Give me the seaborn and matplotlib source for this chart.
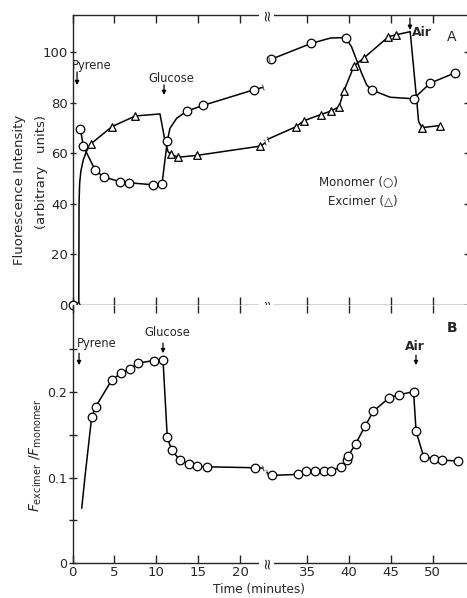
import numpy as np
import pandas as pd
import matplotlib
matplotlib.use("Agg")
import matplotlib.pyplot as plt
import seaborn as sns

# ---------------- data (time in minutes, real values) ----------------
# Panel A: monomer (circles)
mono_t = [0.1, 0.93, 1.29, 2.72, 3.72, 5.70, 6.78, 9.64, 10.68, 11.31, 13.63, 15.61, 21.69,
          30.7, 35.5, 39.6, 42.7, 47.7, 49.7, 52.7]
mono_v = [0, 69.7, 62.8, 53.2, 50.6, 48.7, 48.3, 47.5, 47.8, 64.8, 76.6, 78.9, 85.1,
          97.1, 103.4, 105.7, 85.0, 81.5, 87.7, 91.8]
# Panel A: excimer (triangles)
exc_t = [0.7, 2.17, 4.71, 7.49, 11.72, 12.63, 14.8, 22.43,
         33.7, 34.6, 36.6, 37.8, 38.8, 39.4, 40.6, 41.8, 44.7, 45.6, 48.7, 50.8]
exc_v = [0, 63.6, 70.5, 74.7, 59.6, 58.4, 59.1, 62.8,
         70.5, 72.8, 75.2, 76.6, 78.3, 84.7, 94.5, 97.7, 106.0, 106.8, 70.1, 70.9]

# drawn curves of panel A (two segments each, split by the axis break)
mono_c1_t = [0.93, 1.29, 2.72, 3.72, 5.70, 6.78, 9.64, 10.68, 11.31, 11.63, 12.43, 13.63, 15.61, 21.69, 22.7]
mono_c1_v = [69.7, 62.8, 53.2, 50.6, 48.7, 48.3, 47.5, 47.8, 64.8, 69.8, 73.8, 76.6, 78.9, 85.1, 86.0]
mono_c2_t = [30.4, 30.7, 35.5, 37.8, 39.6, 40.3, 40.9, 41.5, 42.1, 42.7, 44.9, 47.7, 49.7, 52.7]
mono_c2_v = [96.8, 97.1, 103.4, 105.5, 105.7, 102.0, 96.8, 91.6, 87.0, 85.0, 82.1, 81.5, 87.7, 91.8]
exc_c1_t = [0.75, 0.78, 0.85, 1.0, 1.3, 1.7, 2.17, 4.71, 7.49, 10.44, 11.0, 11.4, 11.72, 12.63, 14.8, 22.43, 22.97]
exc_c1_v = [0, 40, 48, 53, 57.5, 61, 63.6, 70.5, 74.7, 75.5, 65.5, 60.6, 59.6, 58.4, 59.1, 62.8, 64.0]
exc_c2_t = [30.3, 33.7, 34.6, 36.6, 37.8, 38.8, 39.4, 40.6, 41.8, 44.7, 45.6, 47.3, 48.1, 48.3, 48.7, 50.8]
exc_c2_v = [65.5, 70.5, 72.8, 75.2, 76.6, 78.3, 84.7, 94.5, 97.7, 106.0, 106.8, 108.0, 80.0, 72.5, 70.1, 70.9]

# Panel B: F_excimer / F_monomer
ratio_t = [2.29, 2.77, 4.68, 5.75, 6.83, 7.82, 9.73, 10.80, 11.31, 11.84, 12.86, 13.94, 14.89, 16.01, 21.78,
           30.8, 33.9, 34.9, 35.9, 37.0, 37.9, 39.0, 39.7, 39.9, 40.8, 41.9, 42.9, 44.8, 46.0, 47.7,
           48.0, 48.9, 50.1, 51.1, 53.0]
ratio_v = [0.171, 0.183, 0.214, 0.222, 0.227, 0.234, 0.237, 0.238, 0.147, 0.132, 0.120, 0.116, 0.1135, 0.1126, 0.1115,
           0.1026, 0.1037, 0.1078, 0.1078, 0.1078, 0.108, 0.112, 0.1205, 0.1254, 0.1396, 0.160, 0.1775, 0.1936, 0.197, 0.2006,
           0.154, 0.1246, 0.122, 0.1205, 0.1193]
ratio_c1_t = [1.10, 1.49, 1.89] + ratio_t[:15] + [22.7]
ratio_c1_v = [0.064, 0.101, 0.136] + ratio_v[:15] + [0.1111]
ratio_c2_t = [30.2] + ratio_t[15:]
ratio_c2_v = [0.1056] + ratio_v[15:]

tick_minutes = [0, 5, 10, 15, 20, 35, 40, 45, 50]
tick_labels = ["0", "5", "10", "15", "20", "35", "40", "45", "50"]

# ---------------- broken time axis ----------------
CUT = 25.0      # real minutes beyond the break are shifted left
SHIFT = 7.0
BREAK_X = 23.2  # display position of the break symbol


def disp(t):
    t = np.asarray(t, dtype=float)
    return np.where(t <= CUT, t, t - SHIFT)


sns.set_theme(style="ticks")
plt.rcParams["font.family"] = ["DejaVu Sans"]
plt.rcParams["axes.linewidth"] = 1.0

W, H = 467, 598
fig = plt.figure(figsize=(W / 100, H / 100), dpi=100)


def fx(px):
    return px / W


def fy(py):
    return 1 - py / H


L = 72.5
axA = fig.add_axes([fx(L), fy(305), 1 - fx(L), (305 - 15) / H])
axB = fig.add_axes([fx(L), fy(563), 1 - fx(L), (563 - 305) / H])

XMAX = (W - L) / 8.38

line_kw = dict(color="black", linewidth=1.1, sort=False, estimator=None, legend=False)
circ_kw = dict(marker="o", s=38, color="white", edgecolor="black", linewidth=0.9, zorder=4, clip_on=False, legend=False)
tri_kw = dict(marker="^", s=30, color="white", edgecolor="black", linewidth=0.9, zorder=4, clip_on=False, legend=False)
squig = dict(fontsize=7, ha="center", va="center", rotation=20, zorder=5)

# ---- Panel A ----
for tt, vv in [(mono_c1_t, mono_c1_v), (mono_c2_t, mono_c2_v), (exc_c1_t, exc_c1_v), (exc_c2_t, exc_c2_v)]:
    sns.lineplot(x=disp(tt), y=vv, ax=axA, **line_kw)
sns.scatterplot(x=disp(mono_t), y=mono_v, ax=axA, **circ_kw)
sns.scatterplot(x=disp(exc_t), y=exc_v, ax=axA, **tri_kw)
for tt, vv in [(mono_c1_t[-1], mono_c1_v[-1]), (mono_c2_t[0], mono_c2_v[0]),
               (exc_c1_t[-1], exc_c1_v[-1]), (exc_c2_t[0], exc_c2_v[0])]:
    axA.text(float(disp(tt)), vv, "\u2240", **squig)

axA.set_xlim(0, XMAX)
axA.set_ylim(0, 114.6)
axA.set_yticks([0, 20, 40, 60, 80, 100])
axA.set_xticks(list(disp(tick_minutes)))
axA.set_xticklabels([])
axA.tick_params(axis="x", direction="in", top=True, bottom=True, length=6, width=1.0)
axA.tick_params(axis="y", direction="inout", left=True, right=True, length=5, width=1.0,
                labelsize=9.5, pad=1)
axA.spines["right"].set_visible(False)
axA.set_xlabel("")
axA.set_ylabel("")

# ---- Panel B ----
for tt, vv in [(ratio_c1_t, ratio_c1_v), (ratio_c2_t, ratio_c2_v)]:
    sns.lineplot(x=disp(tt), y=vv, ax=axB, **line_kw)
sns.scatterplot(x=disp(ratio_t), y=ratio_v, ax=axB, **circ_kw)
for tt, vv in [(ratio_c1_t[-1], ratio_c1_v[-1]), (ratio_c2_t[0], ratio_c2_v[0])]:
    axB.text(float(disp(tt)), vv, "\u2240", **squig)

axB.set_xlim(0, XMAX)
axB.set_ylim(0, 0.302)
axB.set_yticks([0, 0.1, 0.2])
axB.set_yticklabels(["0", "0.1", "0.2"])
axB.set_yticks([0.05, 0.15, 0.25], minor=True)
axB.set_xticks(list(disp(tick_minutes)))
axB.set_xticklabels(tick_labels)
axB.tick_params(axis="x", direction="in", top=True, bottom=True, length=6, width=1.0,
                labelsize=9.5, pad=2)
axB.tick_params(axis="y", which="both", direction="inout", length=6, width=1.0, labelsize=9, pad=1)
axB.spines["right"].set_visible(False)
axB.spines["top"].set_visible(False)
axB.set_xlabel("")
axB.set_ylabel("")

# axis-break symbols
for ax, yy in [(axA, 1.0), (axA, 0.0), (axB, 0.0)]:
    ax.text(BREAK_X, yy, "\u2248", transform=ax.get_xaxis_transform(), rotation=90,
            ha="center", va="center", fontsize=11, zorder=6,
            bbox=dict(facecolor="white", edgecolor="none", pad=0.0), clip_on=False)

# ---------------- annotations ----------------
ann = dict(fontsize=8.3, va="center")
arrow = dict(arrowstyle="-|>", color="black", lw=0.9, mutation_scale=6, shrinkA=0, shrinkB=0)

fig.text(fx(72), fy(65), "Pyrene", ha="left", **ann)
axA.annotate("", xy=(0.54, 86.9), xytext=(0.54, 92.1), arrowprops=arrow)
fig.text(fx(148), fy(78), "Glucose", ha="left", **ann)
axA.annotate("", xy=(10.92, 83.0), xytext=(10.92, 87.0), arrowprops=arrow)
axA.annotate("", xy=(40.27, 108.7), xytext=(40.27, 113.4), arrowprops=arrow, annotation_clip=False)
fig.text(fx(412), fy(33), "Air", ha="left", fontsize=9, fontweight="bold", va="center")
fig.text(fx(452), fy(37), "A", ha="center", fontsize=10, va="center")
fig.text(fx(398), fy(182), "Monomer (\u25cb)", ha="right", fontsize=8.5, va="center")
fig.text(fx(398), fy(201), "Excimer (\u25b3)", ha="right", fontsize=8.5, va="center")

fig.text(fx(77), fy(343), "Pyrene", ha="left", **ann)
axB.annotate("", xy=(0.78, 0.2316), xytext=(0.78, 0.2456), arrowprops=arrow)
fig.text(fx(144), fy(333), "Glucose", ha="left", **ann)
axB.annotate("", xy=(10.8, 0.2456), xytext=(10.8, 0.2573), arrowprops=arrow)
fig.text(fx(405), fy(347), "Air", ha="left", fontsize=9, fontweight="bold", va="center")
axB.annotate("", xy=(40.99, 0.2316), xytext=(40.99, 0.2433), arrowprops=arrow)
fig.text(fx(452), fy(328), "B", ha="center", fontsize=10, fontweight="bold", va="center")

# axis titles
fig.text(fx(20), fy(190), "Fluorescence Intensity", rotation=90, ha="center", va="center", fontsize=9.5)
fig.text(fx(41), fy(172), "(arbitrary   units)", rotation=90, ha="center", va="center", fontsize=9.5)
fig.text(fx(36), fy(455), r"$F_{\mathrm{excimer}}\ /F_{\mathrm{monomer}}$", rotation=90,
         ha="center", va="center", fontsize=10)
fig.text(fx(259), fy(590), "Time (minutes)", ha="center", va="center", fontsize=8.7)

fig.savefig("out.png", dpi=100, facecolor="white")
